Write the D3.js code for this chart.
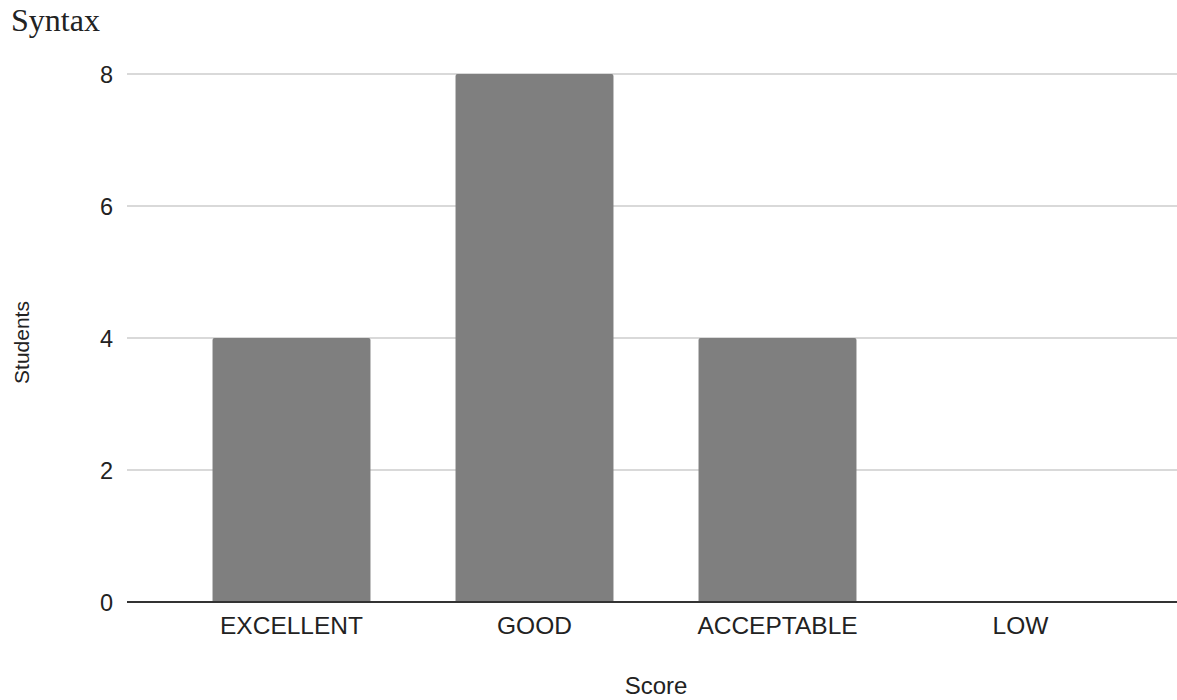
<!DOCTYPE html>
<html>
<head>
<meta charset="utf-8">
<script src="https://cdn.jsdelivr.net/npm/d3@7"></script>
<style>
  html, body { margin: 0; padding: 0; background: #fff; }
  svg { display: block; }
</style>
</head>
<body>
<svg id="chart" width="1177" height="700"></svg>
<script>
// Score categories and number of students in each
const categories = ["EXCELLENT", "GOOD", "ACCEPTABLE", "LOW"];
const students = [4, 8, 4, 0];
const yTicks = [0, 2, 4, 6, 8];

const svg = d3.select("#chart");
const sans = "'Liberation Sans', Arial, sans-serif";

const x = d3.scaleBand()
  .domain(categories)
  .range([170, 1142])
  .paddingInner(0.35)
  .paddingOuter(0.175);

const y = d3.scaleLinear()
  .domain([0, 8])
  .range([602, 74]);

const gridLeft = 127, gridRight = 1177;

// Title
svg.append("text")
  .attr("x", 11).attr("y", 31)
  .attr("font-family", "'Liberation Serif', 'Times New Roman', serif")
  .attr("font-size", 32)
  .attr("fill", "#222")
  .text("Syntax");

// Horizontal gridlines
svg.append("g")
  .selectAll("line")
  .data(yTicks.filter(d => d !== 0))
  .join("line")
  .attr("x1", gridLeft).attr("x2", gridRight)
  .attr("y1", d => y(d)).attr("y2", d => y(d))
  .attr("stroke", "#cccccc")
  .attr("stroke-width", 1.5);

// Y axis tick labels
const yAxis = d3.axisLeft(y).tickValues(yTicks).tickSize(0).tickPadding(0).tickFormat(d3.format("d"));
const yg = svg.append("g").attr("transform", "translate(113,0)").call(yAxis);
yg.select(".domain").remove();
yg.selectAll("text")
  .attr("font-family", sans)
  .attr("font-size", 23.5)
  .attr("fill", "#222")
  .attr("text-anchor", "end")
  .attr("x", 0)
  .attr("dy", "0.36em");

// Bars with slightly rounded tops
const r = 2;
svg.append("g")
  .selectAll("path")
  .data(categories.map((c, i) => ({ c, v: students[i] })).filter(d => d.v > 0))
  .join("path")
  .attr("fill", "#7f7f7f")
  .attr("d", d => {
    const x0 = x(d.c), x1 = x0 + x.bandwidth();
    const yt = y(d.v), yb = y(0);
    return `M${x0},${yb} L${x0},${yt + r} Q${x0},${yt} ${x0 + r},${yt} L${x1 - r},${yt} Q${x1},${yt} ${x1},${yt + r} L${x1},${yb} Z`;
  });

// Baseline
svg.append("line")
  .attr("x1", gridLeft).attr("x2", gridRight)
  .attr("y1", y(0)).attr("y2", y(0))
  .attr("stroke", "#333333")
  .attr("stroke-width", 2);

// X axis category labels
const xAxis = d3.axisBottom(x).tickSize(0).tickPadding(0);
const xg = svg.append("g").attr("transform", `translate(0,${y(0)})`).call(xAxis);
xg.select(".domain").remove();
xg.selectAll("text")
  .attr("font-family", sans)
  .attr("font-size", 24.5)
  .attr("fill", "#222")
  .attr("y", 32)
  .attr("dy", 0);

// Axis titles
svg.append("text")
  .attr("x", 656).attr("y", 694)
  .attr("text-anchor", "middle")
  .attr("font-family", sans)
  .attr("font-size", 24)
  .attr("fill", "#222")
  .text("Score");

svg.append("text")
  .attr("transform", "translate(29,342.5) rotate(-90)")
  .attr("text-anchor", "middle")
  .attr("font-family", sans)
  .attr("font-size", 21)
  .attr("fill", "#222")
  .text("Students");
</script>
</body>
</html>
